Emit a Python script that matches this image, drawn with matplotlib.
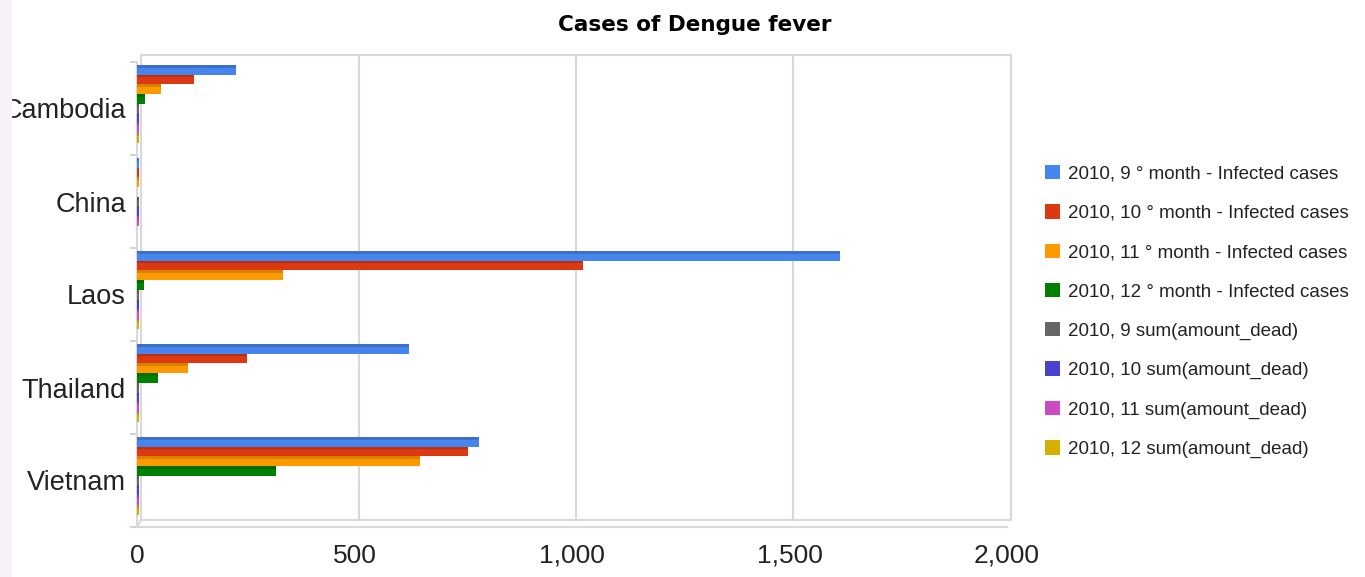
import matplotlib
matplotlib.use("Agg")
import matplotlib.pyplot as plt
import matplotlib.colors as mcolors
from matplotlib.patches import Rectangle
from matplotlib.transforms import offset_copy
import numpy as np

categories = ["Cambodia", "China", "Laos", "Thailand", "Vietnam"]
series_names = [
    "2010, 9 ° month - Infected cases",
    "2010, 10 ° month - Infected cases",
    "2010, 11 ° month - Infected cases",
    "2010, 12 ° month - Infected cases",
    "2010, 9 sum(amount_dead)",
    "2010, 10 sum(amount_dead)",
    "2010, 11 sum(amount_dead)",
    "2010, 12 sum(amount_dead)",
]
inf_sep = [228, 5, 1615, 625, 787]
inf_oct = [130, 5, 1025, 252, 762]
inf_nov = [55, 5, 335, 118, 650]
inf_dec = [18, 0, 15, 48, 320]
dead_sep = [5, 5, 5, 5, 5]
dead_oct = [5, 5, 5, 5, 5]
dead_nov = [5, 5, 5, 5, 5]
dead_dec = [5, 0, 5, 5, 5]
series_values = [inf_sep, inf_oct, inf_nov, inf_dec, dead_sep, dead_oct, dead_nov, dead_dec]
colors = ["#4684EE", "#DC3912", "#FF9900", "#008000", "#666666", "#4942CC", "#CB4AC5", "#D6AE00"]
x_ticks = [0, 500, 1000, 1500, 2000]
x_ticklabels = ["0", "500", "1,000", "1,500", "2,000"]

FONT = ["Liberation Sans", "DejaVu Sans"]
FRAME = "#d9d9d9"

fig = plt.figure(figsize=(13.65, 5.77), dpi=100)
fig.patches.append(Rectangle((0, 0), 11 / 1365, 1, transform=fig.transFigure,
                             color="#f7f2f8", zorder=0))
ax = fig.add_axes([137 / 1365, 1 - 527 / 577, (1007 - 137) / 1365, (527 - 62) / 577])

h = 0.105
start = 0.03
top_t = 0.03
y_base = np.arange(len(categories))
for i, (vals, c) in enumerate(zip(series_values, colors)):
    yc = y_base - 0.5 + start + h * (i + 0.5)
    ax.barh(yc, vals, height=h, color=c, linewidth=0, zorder=3, label=series_names[i])
    dark = np.array(mcolors.to_rgb(c)) * 0.85
    ax.barh(yc - h / 2 + top_t / 2, vals, height=top_t, color=dark, linewidth=0, zorder=4)

ax.set_xlim(0, 2000)
ax.set_ylim(len(categories) - 0.5, -0.5)
ax.set_xticks(x_ticks)
ax.set_xticklabels(x_ticklabels, family=FONT, fontsize=19, color="#222222")
ax.set_yticks(y_base)
ax.set_yticklabels(categories, family=FONT, fontsize=19.5, color="#222222")
ax.set_yticks(np.arange(-0.5, len(categories), 1), minor=True)
ax.tick_params(axis="y", which="major", length=0, pad=8)
ax.tick_params(axis="y", which="minor", length=5, color="#cccccc", width=1.2)
ax.tick_params(axis="x", which="major", length=0, pad=12)

# 3D-like frame: front left/bottom, back plane offset up-right
for side in ("top", "right"):
    ax.spines[side].set_visible(False)
for side in ("left", "bottom"):
    ax.spines[side].set_color(FRAME)
    ax.spines[side].set_linewidth(1.5)
tback = offset_copy(ax.transAxes, fig=fig, x=4, y=7, units="dots")
kw = dict(color=FRAME, linewidth=1.5, clip_on=False, zorder=1)
ax.plot([0, 1], [1, 1], transform=tback, **kw)
ax.plot([1, 1], [0, 1], transform=tback, **kw)
ax.plot([0, 1], [0, 0], transform=tback, **kw)
ax.plot([0, 0], [0, 1], transform=tback, **kw)
for cx, cy in ((0, 1), (1, 0), (0, 0)):
    ax.plot([cx, cx], [cy, cy], transform=ax.transAxes, **kw)
ax.plot([0, 0], [1, 1], transform=ax.transAxes, **kw)
# diagonals connecting front and back corners
import matplotlib.lines as mlines
for cx, cy in ((0, 1), (1, 0), (0, 0)):
    p_front = ax.transAxes.transform((cx, cy))
    p_back = tback.transform((cx, cy))
    ax.add_line(mlines.Line2D([p_front[0], p_back[0]], [p_front[1], p_back[1]],
                              transform=None, color=FRAME, linewidth=1.5, zorder=1))
tgrid = offset_copy(ax.get_xaxis_transform(), fig=fig, x=4, y=7, units="dots")
for xv in x_ticks[1:-1]:
    ax.plot([xv, xv], [0, 1], transform=tgrid, color=FRAME, linewidth=1.5,
            clip_on=False, zorder=1)

leg = ax.legend(loc="upper left", bbox_to_anchor=(1045 / 1365, 1 - 165 / 577),
                bbox_transform=fig.transFigure, frameon=False,
                prop={"family": FONT, "size": 13.5},
                handlelength=0.8, handleheight=0.8, handletextpad=0.4,
                labelspacing=1.15, borderpad=0, borderaxespad=0)
for t in leg.get_texts():
    t.set_color("#222222")

fig.text(695 / 1365, 1 - 25 / 577, "Cases of Dengue fever", ha="center", va="center",
         fontsize=15.5, fontweight="bold", family="DejaVu Sans", color="#000000")

fig.savefig("out.png", dpi=100)
